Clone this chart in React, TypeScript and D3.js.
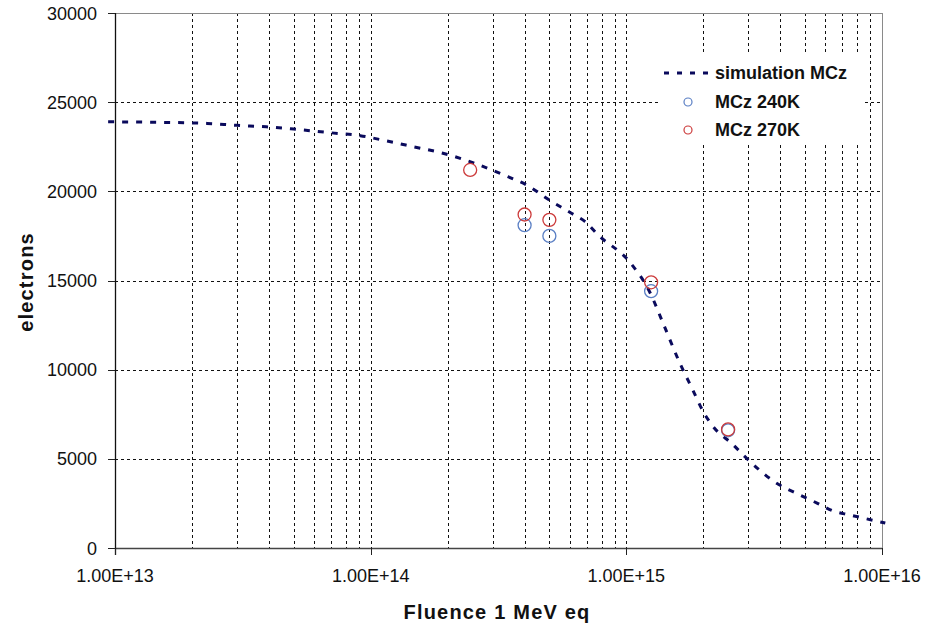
import { useEffect, useRef } from "react";
import * as d3 from "d3";

// simulation curve (MCz)
const simFluence = [9.4e12, 1.48e13, 2.29e13, 3.0e13, 3.9e13, 5.0e13, 6.9e13, 9.1e13, 1.16e14, 1.47e14,
  1.9e14, 2.6e14, 3.44e14, 4.08e14, 5.0e14, 6.1e14, 6.9e14, 7.76e14, 1.03e15, 1.24e15, 1.39e15, 1.62e15,
  1.82e15, 2.0e15, 2.16e15, 2.62e15, 2.91e15, 3.81e15, 4.78e15, 5.57e15, 6.43e15, 7.5e15, 8.43e15, 1.03e16];
const simElectrons = [23900, 23870, 23810, 23700, 23620, 23490, 23290, 23120, 22820, 22500,
  22150, 21530, 20820, 20350, 19510, 18770, 18300, 17550, 16040, 14300, 12630, 10360,
  8860, 7640, 6900, 5780, 5120, 3700, 2970, 2520, 2080, 1850, 1680, 1400];

const fluence240 = [4e14, 5e14, 1.25e15, 2.5e15];
const electrons240 = [18100, 17500, 14400, 6600];
const fluence270 = [2.45e14, 4e14, 5e14, 1.25e15, 2.5e15];
const electrons270 = [21200, 18700, 18400, 14900, 6650];

const yTicks = [0, 5000, 10000, 15000, 20000, 25000, 30000];
const xDecades = [1e13, 1e14, 1e15, 1e16];
const xTickLabels = ["1.00E+13", "1.00E+14", "1.00E+15", "1.00E+16"];
const legendLabels = ["simulation MCz", "MCz 240K", "MCz 270K"];

const FONT = "'Liberation Sans', Arial, sans-serif";

function Chart() {
  const svgRef = useRef<SVGSVGElement | null>(null);
  const width = 934;
  const height = 624;

  useEffect(() => {
    const svg = d3.select(svgRef.current);
    svg.selectAll("*").remove();

    const left = 115, right = 882, top = 13, bottom = 548;
    const x = d3.scaleLog().domain([1e13, 1e16]).range([left, right]);
    const y = d3.scaleLinear().domain([0, 30000]).range([bottom, top]);

    svg.append("rect").attr("width", width).attr("height", height).attr("fill", "white");

    // grid
    const minor: number[] = [];
    for (let d = 13; d < 16; d++) for (let k = 2; k <= 9; k++) minor.push(k * Math.pow(10, d));
    const grid = svg.append("g").attr("stroke", "#111").attr("stroke-width", 1).attr("stroke-dasharray", "3,3");
    grid.selectAll("line.v")
      .data(minor.concat([1e14, 1e15]))
      .join("line")
      .attr("x1", (d) => Math.round(x(d)) + 0.5).attr("x2", (d) => Math.round(x(d)) + 0.5)
      .attr("y1", top).attr("y2", bottom);
    grid.selectAll("line.h")
      .data(yTicks.filter((t) => t > 0 && t < 30000))
      .join("line")
      .attr("x1", left).attr("x2", right)
      .attr("y1", (d) => Math.round(y(d)) + 0.5).attr("y2", (d) => Math.round(y(d)) + 0.5);

    // frame
    svg.append("line").attr("x1", left).attr("x2", right).attr("y1", top + 0.5).attr("y2", top + 0.5).attr("stroke", "#8a8a8a");
    svg.append("line").attr("x1", right + 0.5).attr("x2", right + 0.5).attr("y1", top).attr("y2", bottom).attr("stroke", "#8a8a8a");
    svg.append("line").attr("x1", left).attr("x2", right).attr("y1", bottom + 0.5).attr("y2", bottom + 0.5).attr("stroke", "#444").attr("stroke-width", 1.3);
    svg.append("line").attr("x1", left + 0.5).attr("x2", left + 0.5).attr("y1", top).attr("y2", bottom + 7).attr("stroke", "#111").attr("stroke-width", 1.3);

    // y ticks + labels
    svg.append("g").selectAll("line")
      .data(yTicks).join("line")
      .attr("x1", left - 7).attr("x2", left)
      .attr("y1", (d) => Math.round(y(d)) + 0.5).attr("y2", (d) => Math.round(y(d)) + 0.5)
      .attr("stroke", "#222");
    svg.append("g").selectAll("text")
      .data(yTicks).join("text")
      .attr("x", 97).attr("y", (d) => y(d) + 6.5)
      .attr("text-anchor", "end")
      .attr("font-family", FONT).attr("font-size", 18).attr("fill", "#111")
      .text((d) => String(d));

    // x ticks + labels
    svg.append("g").selectAll("line")
      .data(xDecades).join("line")
      .attr("x1", (d) => Math.round(x(d)) + 0.5).attr("x2", (d) => Math.round(x(d)) + 0.5)
      .attr("y1", bottom).attr("y2", bottom + 7)
      .attr("stroke", "#222");
    svg.append("g").selectAll("text")
      .data(xDecades).join("text")
      .attr("x", (d) => x(d)).attr("y", 582)
      .attr("text-anchor", "middle")
      .attr("font-family", FONT).attr("font-size", 18).attr("fill", "#111")
      .text((d, i) => xTickLabels[i]);

    // axis titles
    svg.append("text")
      .attr("x", 497).attr("y", 619)
      .attr("text-anchor", "middle")
      .attr("font-family", FONT).attr("font-size", 20).attr("font-weight", "bold")
      .attr("letter-spacing", 1.2).attr("fill", "#111")
      .text("Fluence 1 MeV eq");
    svg.append("text")
      .attr("transform", "translate(33,282) rotate(-90)")
      .attr("text-anchor", "middle")
      .attr("font-family", FONT).attr("font-size", 20).attr("font-weight", "bold")
      .attr("letter-spacing", 1.2).attr("fill", "#111")
      .text("electrons");

    // simulation curve
    const simData = simFluence.map((f, i) => [f, simElectrons[i]] as [number, number]);
    const line = d3.line<[number, number]>()
      .x((d) => x(d[0])).y((d) => y(d[1]))
      .curve(d3.curveMonotoneX);
    svg.append("path")
      .attr("d", line(simData))
      .attr("fill", "none")
      .attr("stroke", "#0a0a5c")
      .attr("stroke-width", 3)
      .attr("stroke-dasharray", "6,8");

    // measured points
    const blue = "#5a7fc4";
    const red = "#cc3a3a";
    svg.append("g").selectAll("circle")
      .data(fluence240.map((f, i) => [f, electrons240[i]]))
      .join("circle")
      .attr("cx", (d) => x(d[0])).attr("cy", (d) => y(d[1])).attr("r", 6.5)
      .attr("fill", "none").attr("stroke", blue).attr("stroke-width", 1.3);
    svg.append("g").selectAll("circle")
      .data(fluence270.map((f, i) => [f, electrons270[i]]))
      .join("circle")
      .attr("cx", (d) => x(d[0])).attr("cy", (d) => y(d[1])).attr("r", 6.5)
      .attr("fill", "none").attr("stroke", red).attr("stroke-width", 1.3);

    // legend
    const lg = svg.append("g");
    lg.append("rect").attr("x", 658).attr("y", 53).attr("width", 205).attr("height", 92).attr("fill", "white");
    lg.append("line")
      .attr("x1", 664).attr("x2", 712).attr("y1", 73).attr("y2", 73)
      .attr("stroke", "#0a0a5c").attr("stroke-width", 3).attr("stroke-dasharray", "5,8");
    lg.append("circle").attr("cx", 688).attr("cy", 102).attr("r", 4)
      .attr("fill", "none").attr("stroke", blue).attr("stroke-width", 1.2);
    lg.append("circle").attr("cx", 688).attr("cy", 130).attr("r", 4)
      .attr("fill", "none").attr("stroke", red).attr("stroke-width", 1.2);
    lg.selectAll("text")
      .data(legendLabels).join("text")
      .attr("x", 715).attr("y", (d, i) => 79 + i * 28.5)
      .attr("font-family", FONT).attr("font-size", 18).attr("font-weight", "bold")
      .attr("fill", "#111")
      .text((d) => d);
  }, []);

  return (
    <svg
      ref={svgRef}
      width={width}
      height={height}
      viewBox={`0 0 ${width} ${height}`}
      style={{ position: "absolute", left: 0, top: 0, display: "block" }}
    ></svg>
  );
}

export default function App() {
  return <Chart />;
}
